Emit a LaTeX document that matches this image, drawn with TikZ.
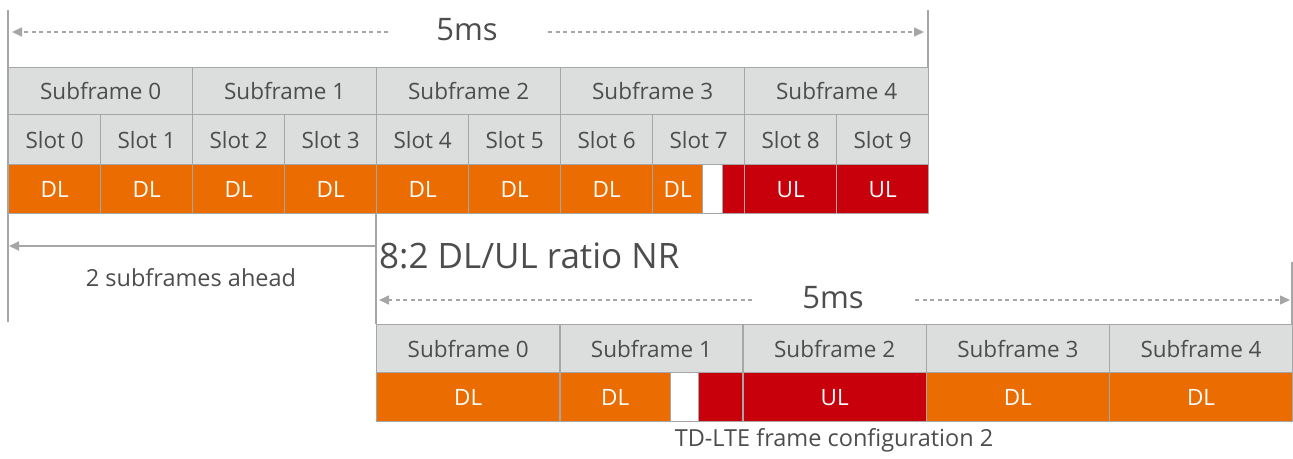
\documentclass[tikz,border=0pt]{standalone}
\usepackage{fontspec}
\setmainfont{Open Sans}
\usetikzlibrary{arrows.meta}
\definecolor{cgray}{HTML}{DCDDDD}
\definecolor{cline}{HTML}{A6A6A6}
\definecolor{corange}{HTML}{EB6C00}
\definecolor{cred}{HTML}{C8000B}
\definecolor{ctext}{HTML}{4D4D4D}
\tikzset{
  cell/.style={draw=cline, line width=1.3pt, anchor=north west, inner sep=0pt, font=\fontsize{22.5}{26}\selectfont},
  hdr/.style={cell, fill=cgray, text=ctext},
  dlcell/.style={cell, fill=corange, text=white},
  ulcell/.style={cell, fill=cred, text=white},
  gapcell/.style={cell, fill=white},
  guide/.style={draw=cline, line width=1.3pt},
  dasharrow/.style={draw=cline, line width=1.5pt, dash pattern=on 4pt off 3.5pt, -{Triangle[length=10pt,width=9pt]}},
  solidarrow/.style={draw=cline, line width=1.8pt, -{Triangle[length=10pt,width=9pt]}},
  bigtxt/.style={text=ctext, font=\fontsize{31}{36}\selectfont, inner sep=0pt},
  ratiotxt/.style={text=ctext, font=\fontsize{35}{40}\selectfont, inner sep=0pt},
  smalltxt/.style={text=ctext, font=\fontsize{23.5}{28}\selectfont, inner sep=0pt},
}
\begin{document}
\begin{tikzpicture}[x=1pt,y=-1pt]
\useasboundingbox (0,0) rectangle (1293,458);
% guide lines
\coordinate (tl1) at (8,10); \coordinate (tl2) at (8,322);
\coordinate (tr1) at (928,10); \coordinate (tr2) at (928,67);
\coordinate (ml1) at (376,213); \coordinate (ml2) at (376,324);
\coordinate (br1) at (1292,262); \coordinate (br2) at (1292,324);
\draw[guide] (tl1) -- (tl2);
\draw[guide] (tr1) -- (tr2);
\draw[guide] (ml1) -- (ml2);
\draw[guide] (br1) -- (br2);
% top table
\foreach \i in {0,...,4} {
  \node[hdr, minimum width=184pt, minimum height=47pt] (tsf\i) at ({8+184*\i},67) {Subframe \i};
}
\foreach \i in {0,...,9} {
  \node[hdr, minimum width=92pt, minimum height=50pt] (tsl\i) at ({8+92*\i},114) {Slot \i};
}
\foreach \i in {0,...,6} {
  \node[dlcell, minimum width=92pt, minimum height=49pt] (tdl\i) at ({8+92*\i},164) {DL};
}
\node[dlcell, minimum width=50pt, minimum height=49pt] (tdl7) at (652,164) {DL};
\node[gapcell, minimum width=20pt, minimum height=49pt] (tgp7) at (702,164) {};
\node[ulcell, minimum width=22pt, minimum height=49pt] (tul7) at (722,164) {};
\node[ulcell, minimum width=92pt, minimum height=49pt] (tul8) at (744,164) {UL};
\node[ulcell, minimum width=92pt, minimum height=49pt] (tul9) at (836,164) {UL};
% top 5ms
\node[bigtxt] (t5ms) at (467,30) {5ms};
\coordinate (ta1) at (388,32); \coordinate (ta1e) at (12,32);
\coordinate (ta2) at (548,32); \coordinate (ta2e) at (924,32);
\draw[dasharrow] (ta1) -- (ta1e);
\draw[dasharrow] (ta2) -- (ta2e);
% ahead arrow
\coordinate (aa) at (376,246); \coordinate (ab) at (9,246);
\draw[solidarrow] (aa) -- (ab);
\node[smalltxt] (ahead) at (191,278) {2 subframes ahead};
\node[ratiotxt, anchor=west] (ratio) at (379,256) {8:2 DL/UL ratio NR};
% bottom table
\foreach \i in {0,...,4} {
  \node[hdr, minimum width=183.2pt, minimum height=48pt] (bsf\i) at ({376+183.2*\i},324) {Subframe \i};
}
\node[dlcell, minimum width=183.2pt, minimum height=49pt] (bdl0) at (376,372) {DL};
\node[dlcell, minimum width=110.8pt, minimum height=49pt] (bdl1) at (559.2,372) {DL};
\node[gapcell, minimum width=28pt, minimum height=49pt] (bgp1) at (670,372) {};
\node[ulcell, minimum width=44.4pt, minimum height=49pt] (bul1) at (698,372) {};
\node[ulcell, minimum width=183.2pt, minimum height=49pt] (bul2) at (742.4,372) {UL};
\node[dlcell, minimum width=183.2pt, minimum height=49pt] (bdl3) at (925.6,372) {DL};
\node[dlcell, minimum width=183.2pt, minimum height=49pt] (bdl4) at (1108.8,372) {DL};
% bottom 5ms
\node[bigtxt] (b5ms) at (833,298) {5ms};
\coordinate (ba1) at (752,300); \coordinate (ba1e) at (379,300);
\coordinate (ba2) at (915,300); \coordinate (ba2e) at (1290,300);
\draw[dasharrow] (ba1) -- (ba1e);
\draw[dasharrow] (ba2) -- (ba2e);
\node[smalltxt] (cfg) at (834,440) {TD-LTE frame configuration 2};
\end{tikzpicture}
\end{document}
